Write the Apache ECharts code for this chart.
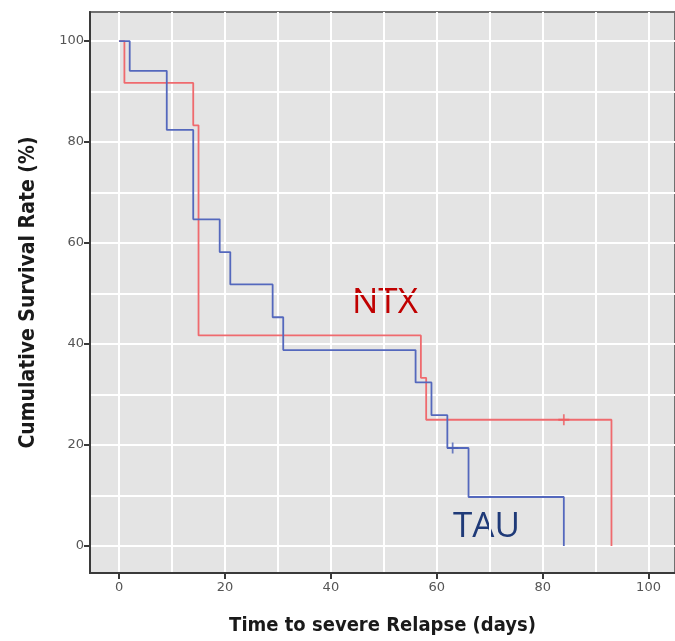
<!DOCTYPE html>
<html>
<head>
<meta charset="utf-8">
<script src="https://cdn.jsdelivr.net/npm/echarts@6/dist/echarts.min.js"></script>
<style>html,body{margin:0;padding:0;background:#fff}#c{width:675px;height:641px}</style>
</head>
<body>
<div id="c"></div>
<script>
// Kaplan-Meier steps: [day, survival % after event]
var ntxSteps = [[0,100],[1,91.7],[14,83.3],[15,41.7],[57,33.3],[58,25],[93,0]];
var tauSteps = [[0,100],[2,94.1],[9,82.4],[14,64.7],[19,58.2],[21,51.8],[29,45.3],[31,38.8],[56,32.4],[59,25.9],[62,19.4],[66,9.7],[84,0]];
var ntxCensored = [[84,25]];
var tauCensored = [[63,19.4]];
var xGridValues = [0,10,20,30,40,50,60,70,80,90,100];
var yGridValues = [0,10,20,30,40,50,60,70,80,90,100];
var xTickLabels = [0,20,40,60,80,100];
var yTickLabels = [0,20,40,60,80,100];
var groupLabels = ['NTX','TAU'];

var xMin = -5.5, xMax = 105, yMin = -5.35, yMax = 105.75;
var plusPath = 'path://M4.2,0H5.8V4.2H10V5.8H5.8V10H4.2V5.8H0V4.2H4.2Z';
var font = "'DejaVu Sans Condensed','DejaVu Sans',sans-serif";

var chart = echarts.init(document.getElementById('c'), null, {renderer:'canvas'});
chart.setOption({
  animation:false,
  backgroundColor:'#ffffff',
  grid:{left:90,top:12,width:586,height:561,show:true,backgroundColor:'#e4e4e4',borderColor:'#707070',borderWidth:2},
  xAxis:[
    {type:'value',min:xMin,max:xMax,axisLine:{show:false},axisLabel:{show:false},
     axisTick:{show:false,customValues:xGridValues},
     splitLine:{show:true,lineStyle:{color:'#ffffff',width:2}}},
    {type:'value',min:xMin,max:xMax,position:'bottom',
     axisLine:{show:true,onZero:false,lineStyle:{color:'#3a3a3a',width:2}},
     axisTick:{show:true,length:6,customValues:xTickLabels,lineStyle:{color:'#3a3a3a',width:2}},
     axisLabel:{show:true,customValues:xTickLabels,color:'#555',fontSize:13,fontFamily:"'DejaVu Sans',sans-serif",margin:8},
     splitLine:{show:false},
     name:'Time to severe Relapse (days)',nameLocation:'middle',nameGap:43,
     nameTextStyle:{fontSize:20,fontWeight:'bold',color:'#1a1a1a',fontFamily:font}}
  ],
  yAxis:[
    {type:'value',min:yMin,max:yMax,axisLine:{show:false},axisLabel:{show:false},
     axisTick:{show:false,customValues:yGridValues},
     splitLine:{show:true,lineStyle:{color:'#ffffff',width:2}}},
    {type:'value',min:yMin,max:yMax,position:'left',
     axisLine:{show:true,onZero:false,lineStyle:{color:'#3a3a3a',width:2}},
     axisTick:{show:true,length:6,customValues:yTickLabels,lineStyle:{color:'#3a3a3a',width:2}},
     axisLabel:{show:true,customValues:yTickLabels,color:'#555',fontSize:13,fontFamily:"'DejaVu Sans',sans-serif",margin:6},
     splitLine:{show:false},
     name:'Cumulative Survival Rate (%)',nameLocation:'middle',nameGap:51,
     nameTextStyle:{fontSize:21,fontWeight:'bold',color:'#1a1a1a',fontFamily:font}}
  ],
  series:[
    {type:'line',name:groupLabels[0],data:ntxSteps,step:'end',showSymbol:false,xAxisIndex:0,yAxisIndex:0,
     lineStyle:{color:'#ef6a6e',width:1.8},z:3},
    {type:'line',name:groupLabels[1],data:tauSteps,step:'end',showSymbol:false,xAxisIndex:0,yAxisIndex:0,
     lineStyle:{color:'#5468bd',width:1.8},z:4},
    {type:'scatter',data:ntxCensored,symbol:plusPath,symbolSize:11,xAxisIndex:0,yAxisIndex:0,
     itemStyle:{color:'#ee5a5e'},z:5},
    {type:'scatter',data:tauCensored,symbol:plusPath,symbolSize:11,xAxisIndex:0,yAxisIndex:0,
     itemStyle:{color:'#4a5fb5'},z:5}
  ],
  graphic:[
    {type:'text',left:352,top:286,style:{text:groupLabels[0],fill:'#c00000',fontSize:35,fontFamily:"'Open Sans','Noto Sans',sans-serif"}},
    {type:'text',left:453,top:510,style:{text:groupLabels[1],fill:'#1f3a78',fontSize:35,fontFamily:"'Open Sans','Noto Sans',sans-serif"}}
  ]
});
</script>
</body>
</html>
